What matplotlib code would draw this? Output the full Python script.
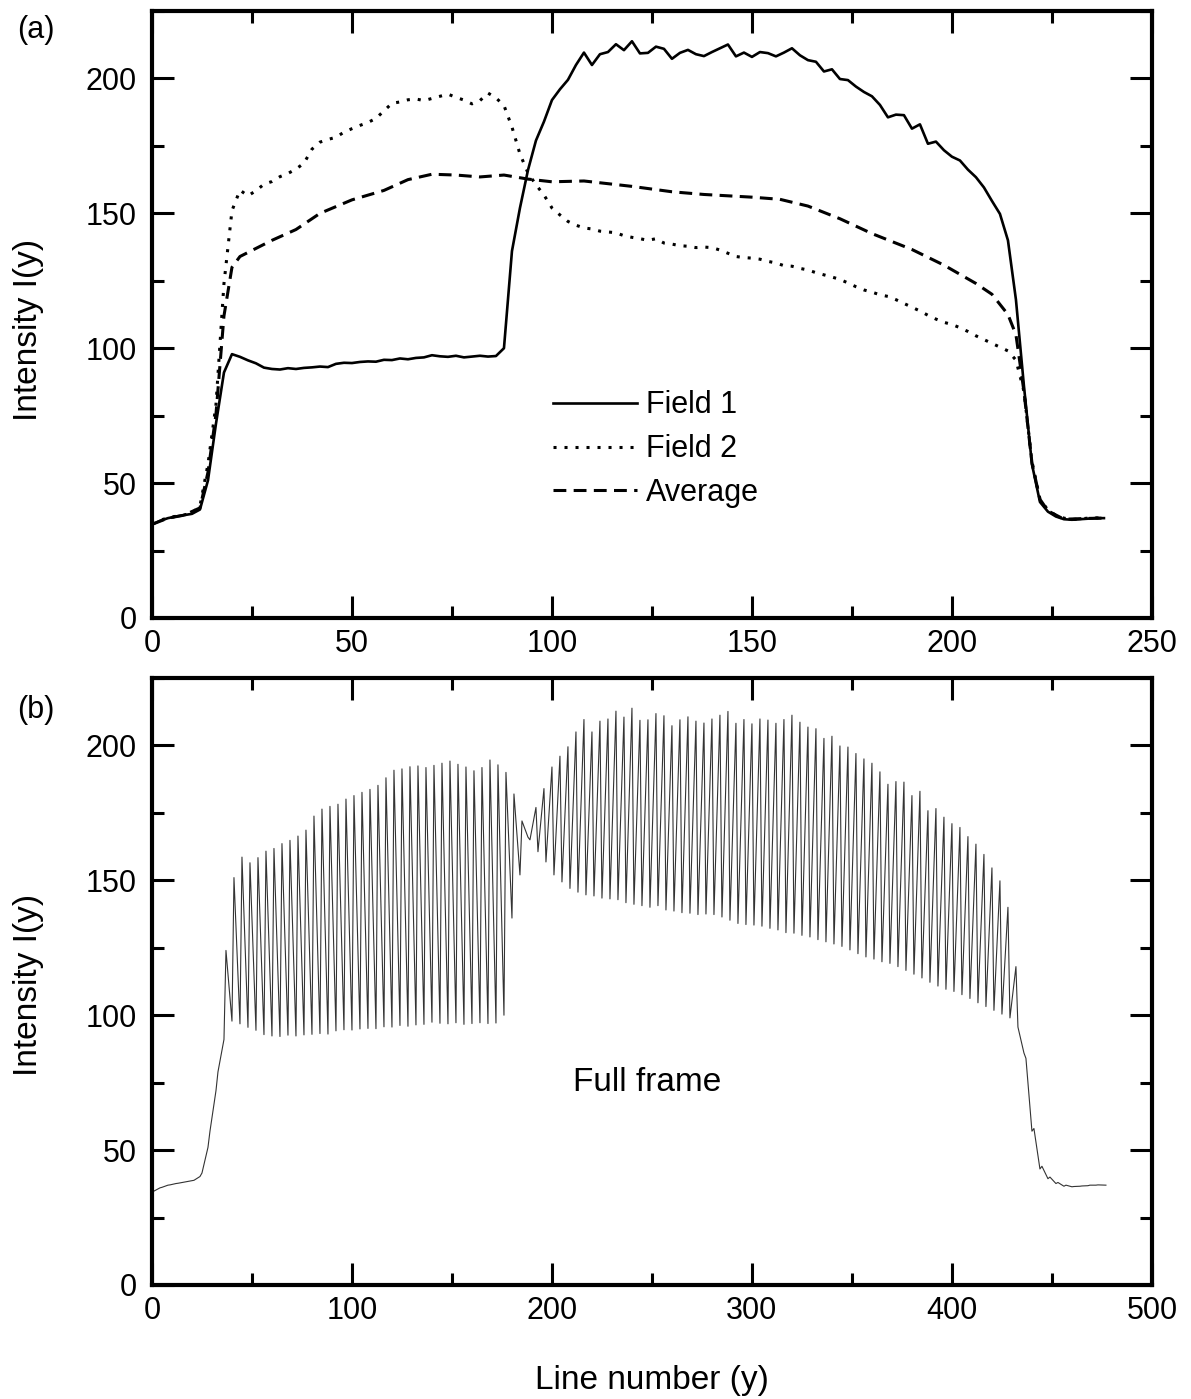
import numpy as np
import matplotlib.pyplot as plt
from matplotlib.ticker import MultipleLocator

plt.rcParams['font.family'] = ['Liberation Sans', 'DejaVu Sans']

# line index of each field (every 2nd line)
lines = np.arange(0, 240, 2)

field1 = [34.6, 36.0, 37.0, 37.6, 38.1, 38.6, 40.2, 51.0, 72.0, 91.0,
          97.8, 96.8, 95.5, 94.4, 92.8, 92.3, 92.1, 92.6, 92.3, 92.7,
          92.9, 93.2, 93.0, 94.2, 94.6, 94.5, 94.9, 95.1, 95.0, 95.7,
          95.6, 96.2, 95.9, 96.4, 96.6, 97.4, 97.0, 96.8, 97.2, 96.6,
          96.9, 97.2, 96.9, 97.1, 100.0, 136.0, 152.0, 166.0, 177.0, 184.0,
          192.0, 196.0, 199.5, 205.0, 209.6, 205.0, 209.0, 209.8, 212.7, 210.5,
          213.8, 209.3, 209.5, 211.8, 211.0, 207.3, 209.5, 210.6, 209.0, 208.3,
          209.8, 211.2, 212.6, 208.2, 209.6, 208.0, 209.8, 209.4, 208.2, 209.6,
          211.2, 208.6, 206.8, 206.2, 202.6, 203.4, 199.8, 199.4, 197.0, 195.0,
          193.4, 190.2, 185.6, 186.6, 186.4, 181.4, 183.0, 175.8, 176.6, 173.4,
          171.0, 169.6, 166.2, 163.4, 159.6, 154.6, 149.8, 140.0, 118.0, 86.0,
          57.0, 43.0, 39.4, 37.6, 36.6, 36.4, 36.6, 36.8, 37.0, 37.0]

field2 = [34.8, 36.2, 37.1, 37.7, 38.2, 38.8, 41.5, 57.0, 79.0, 124.0,
          151.0, 158.6, 156.5, 158.4, 160.8, 161.8, 163.6, 164.8, 166.4, 168.6,
          173.8, 176.4, 177.4, 178.2, 180.1, 181.4, 182.6, 183.7, 185.2, 188.0,
          190.8, 191.3, 192.1, 192.4, 191.8, 192.6, 193.4, 194.2, 193.0, 192.0,
          190.6, 191.8, 194.6, 192.8, 190.0, 182.0, 172.0, 165.0, 160.6, 156.8,
          152.0, 149.4, 147.0, 145.6, 144.6, 144.2, 143.4, 143.1, 142.8, 141.7,
          141.1, 140.6, 140.0, 140.6, 139.0, 138.6, 138.0, 137.8, 137.3, 137.5,
          137.3, 136.4, 135.2, 134.0, 133.6, 133.4, 133.0, 132.2, 131.6, 130.6,
          130.4, 129.6, 129.0, 128.0, 127.2, 126.4, 125.5, 124.2, 122.8, 121.6,
          120.8, 119.8, 119.2, 118.0, 116.6, 115.2, 113.8, 112.2, 110.8, 109.6,
          108.8, 107.6, 106.2, 104.6, 103.2, 101.8, 100.4, 99.0, 95.6, 84.0,
          58.0, 44.0, 40.0, 38.0, 37.0, 36.5, 36.7, 37.0, 37.1, 37.0]

avg_x = [0, 4, 8, 12, 14, 16, 18, 20, 22, 26,
         30, 36, 42, 50, 58, 64, 70, 76, 82, 88,
         94, 100, 108, 114, 120, 130, 138, 150, 157, 164,
         172, 180, 190, 198, 206, 210, 214, 216, 218, 220,
         222, 224, 228, 234, 238]
avg_y = [34.7, 37.0, 38.1, 40.8, 54.0, 75.5, 112.0, 130.0, 134.0, 137.0,
         140.0, 144.0, 150.0, 155.0, 158.5, 162.5, 164.5, 164.2, 163.5, 164.2,
         162.7, 161.7, 162.0, 161.0, 160.0, 158.0, 157.0, 156.0, 155.2, 152.7,
         148.0, 142.5, 136.6, 130.8, 124.0, 120.0, 112.5, 105.0, 84.0, 57.5,
         44.0, 39.7, 36.6, 36.9, 37.0]

# full frame = the two fields interleaved (field 1 on even lines, field 2 on odd)
frame_x = np.column_stack([2 * lines, 2 * lines + 1]).ravel()
frame_y = np.column_stack([field1, field2]).ravel()

fig = plt.figure(figsize=(11.91, 13.99), dpi=100)
ax1 = fig.add_axes([0.1276, 0.5583, 0.8396, 0.4338])
ax2 = fig.add_axes([0.1276, 0.0815, 0.8396, 0.4339])

ax1.plot(lines, field1, color='black', lw=1.9, label='Field 1')
ax1.plot(lines, field2, color='black', lw=2.2, linestyle=(0, (1, 2.6)), label='Field 2')
ax1.plot(avg_x, avg_y, color='black', lw=2.2, linestyle=(0, (4.2, 2.4)), label='Average')
ax1.set_xlim(0, 250)
ax1.xaxis.set_major_locator(MultipleLocator(50))
ax1.xaxis.set_minor_locator(MultipleLocator(25))
ax1.legend(loc='center left', bbox_to_anchor=(0.401, 0.278), frameon=False,
           fontsize=22, handlelength=2.75, handletextpad=0.3, labelspacing=0.45,
           borderpad=0, borderaxespad=0)

ax2.plot(frame_x, frame_y, color='0.2', lw=0.8)
ax2.set_xlim(0, 500)
ax2.xaxis.set_major_locator(MultipleLocator(100))
ax2.xaxis.set_minor_locator(MultipleLocator(50))
ax2.text(0.421, 0.333, 'Full frame', transform=ax2.transAxes, fontsize=24, va='center')

for ax in (ax1, ax2):
    ax.set_ylim(0, 225)
    ax.yaxis.set_major_locator(MultipleLocator(50))
    ax.yaxis.set_minor_locator(MultipleLocator(25))
    ax.tick_params(which='both', direction='in', top=True, right=True,
                   labelsize=22, width=2.2, pad=8)
    ax.tick_params(which='major', length=16)
    ax.tick_params(which='minor', length=8.5)
    ax.tick_params(axis='y', which='both', pad=11)
    for s in ax.spines.values():
        s.set_linewidth(3)

fig.text(0.0143, 1 - 30 / 1399, '(a)', fontsize=22, va='center', ha='left')
fig.text(0.0143, 1 - 710 / 1399, '(b)', fontsize=22, va='center', ha='left')
fig.text(29 / 1191, 1 - 330 / 1399, 'Intensity I(y)', rotation=90,
         va='center', ha='center', fontsize=24)
fig.text(29 / 1191, 1 - 985 / 1399, 'Intensity I(y)', rotation=90,
         va='center', ha='center', fontsize=24)
fig.text(652 / 1191, 1 - 1380 / 1399, 'Line number (y)', ha='center',
         va='center', fontsize=24)

fig.savefig('out.png', dpi=100)
